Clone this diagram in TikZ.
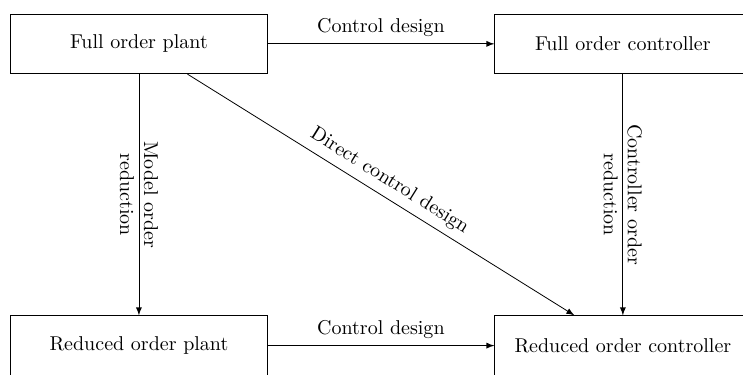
\documentclass[tikz,border=0pt]{standalone}
\usepackage{amsmath, amssymb}
\usepackage{tikz}
\tikzstyle{block} = [rectangle, minimum width=4.5cm, minimum height=1.05cm, text centered, draw=black]
\tikzstyle{arrow} = [->,>=latex]

\begin{document}
\begin{tikzpicture}[node distance=5.3cm]
	\useasboundingbox (-2.44,0.77) rectangle (10.61,-5.80);
	\node (plant) [block] {Full order plant};
	\node (ctrl) [block, right of=plant, xshift=3.2cm] {Full order controller};
	\node (redplant) [block, below of=plant] {Reduced order plant};
	\node (redctrl) [block, below of=ctrl] {Reduced order controller};

	\draw [arrow] (plant) -- node[anchor=south] {Control design} (ctrl);
	\draw [arrow] (redplant) -- node[anchor=south] {Control design} (redctrl);
	\draw [arrow] (plant) -- node[midway, rotate=-90, align=center] {Model order\\reduction} (redplant);
	\draw [arrow] (ctrl) -- node[midway, rotate=-90, align=center] {Controller order\\reduction} (redctrl);
	\draw [arrow] (plant) -- node[midway, sloped, above] {Direct control design} (redctrl);

\end{tikzpicture}
\end{document}
